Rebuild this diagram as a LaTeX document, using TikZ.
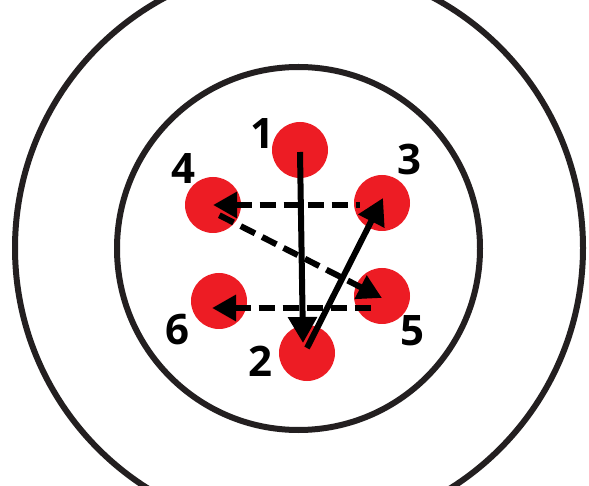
\documentclass[tikz,border=0pt]{standalone}
\usepackage{fontspec}
\setmainfont{Open Sans}
\usetikzlibrary{arrows.meta}
\definecolor{dotred}{HTML}{ED1C24}
\definecolor{ink}{HTML}{231F20}
\tikzset{
  ring/.style={draw=ink, line width=6pt},
  dot/.style={circle, fill=dotred, draw=none, minimum size=56pt, inner sep=0pt},
  lab/.style={font=\fontsize{42}{44}\selectfont\bfseries, text=black, inner sep=0pt},
  solidarrow/.style={draw=black, line width=6pt, -{Triangle[length=26pt,width=28pt]}},
  dasharrowrev/.style={draw=black, line width=6pt, dash pattern=on 16pt off 8pt, {Triangle[length=24pt,width=25pt]}-}
}
\begin{document}
\begin{tikzpicture}[x=1pt,y=-1pt]
\useasboundingbox (0,0) rectangle (589,486);
\clip (0,0) rectangle (589,486);
\fill[white] (0,0) rectangle (589,486);
\draw[ring] (299,248) circle[radius=284pt];
\draw[ring] (298.5,248.5) circle[radius=181.5pt];
\node[dot] (n1) at (300,150) {};
\node[dot] (n2) at (307,353) {};
\node[dot] (n3) at (382,203) {};
\node[dot] (n4) at (213,205) {};
\node[dot] (n5) at (382,296) {};
\node[dot] (n6) at (219,301) {};
\node[lab] (l1) at (262,134) {1};
\node[lab] (l2) at (260,361) {2};
\node[lab] (l3) at (409,160) {3};
\node[lab] (l4) at (183,169) {4};
\node[lab] (l5) at (412,331) {5};
\node[lab] (l6) at (177,330) {6};
% dashed connectors: 3 -> 4, 4 -> 5, 5 -> 6 (drawn from the tip end so the dashes meet the heads)
\draw[dasharrowrev] (n4.center) -- ([xshift=-22pt,yshift=-2pt]n3.center);
\draw[dasharrowrev] ([yshift=-2pt]n5.center) -- ([yshift=-7pt]n4.center);
\draw[dasharrowrev] ([xshift=-7pt,yshift=-7pt]n6.center) -- ([xshift=-5pt,yshift=-12pt]n5.center);
\draw[solidarrow] ([yshift=-2pt]n1.center) -- ([xshift=-4pt,yshift=10pt]n2.center);
\draw[solidarrow] ([yshift=5pt]n2.center) -- ([xshift=1pt,yshift=5pt]n3.center);
\end{tikzpicture}
\end{document}
